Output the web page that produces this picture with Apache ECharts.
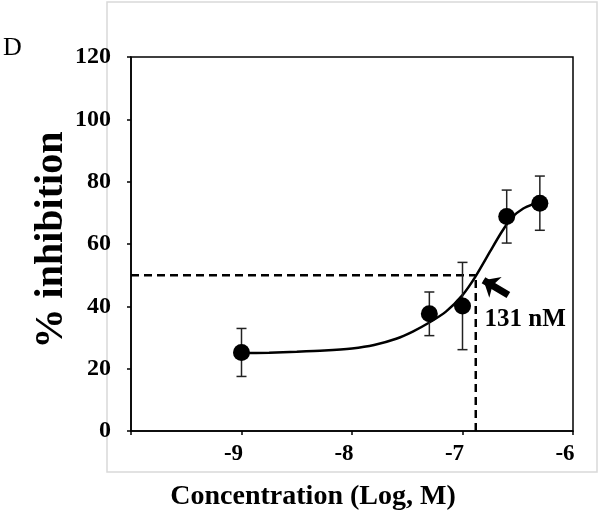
<!DOCTYPE html>
<html>
<head>
<meta charset="utf-8">
<script src="https://cdn.jsdelivr.net/npm/echarts@6/dist/echarts.min.js"></script>
<style>html,body{margin:0;padding:0;background:#fff;}#c{width:600px;height:514px;}</style>
</head>
<body>
<div id="c"></div>
<script>
// Data
const concLog = [-9, -7.3, -7, -6.6, -6.3];
const inhibition = [25.2, 37.6, 40.1, 68.8, 73.1];
const errorBar = [7.7, 7, 14, 8.5, 8.7];
const fitX = [-9, -8.75, -8.5, -8.25, -8.0, -7.8, -7.6, -7.45, -7.3, -7.15, -7.0, -6.88, -6.75, -6.65, -6.55, -6.45, -6.35, -6.3];
const fitY = [25.0, 25.1, 25.4, 25.8, 26.5, 27.6, 29.6, 31.9, 34.8, 38.3, 43.6, 49.7, 57.6, 63.6, 68.6, 71.4, 73.0, 73.6];
const ic50Log = -6.88;
const halfLevel = 50;
const ic50Label = '131 nM';
const xTicks = [-9, -8, -7, -6];
const yTicks = [0, 20, 40, 60, 80, 100, 120];
const arrowFrom = [-6.585, 43.6];
const arrowTo = [-6.81, 48.4];
const labelPos = [-6.8, 35.6];

const serif = '"Liberation Serif", "DejaVu Serif", serif';
const chart = echarts.init(document.getElementById('c'));

const errData = concLog.map((x, i) => [x, inhibition[i] - errorBar[i], inhibition[i] + errorBar[i]]);

chart.setOption({
  animation: false,
  backgroundColor: '#fff',
  grid: { left: 131, right: 27, top: 57, bottom: 83, show: true, borderColor: '#000', borderWidth: 1.5 },
  xAxis: {
    type: 'value', min: -10, max: -6, interval: 1,
    axisLine: { lineStyle: { color: '#000', width: 1.5 } },
    axisTick: { show: true, length: 4, lineStyle: { color: '#000', width: 1.5 } },
    splitLine: { show: false },
    axisLabel: {
      margin: 12, color: '#000', fontFamily: serif, fontWeight: 'bold', fontSize: 23,
      padding: [0, 16, 0, 0],
      formatter: v => xTicks.indexOf(v) >= 0 ? String(v) : ''
    }
  },
  yAxis: {
    type: 'value', min: 0, max: 120, interval: 20,
    axisLine: { show: true, lineStyle: { color: '#000', width: 1.5 } },
    axisTick: { show: true, length: 4, lineStyle: { color: '#000', width: 1.5 } },
    splitLine: { show: false },
    axisLabel: {
      margin: 20, color: '#000', fontFamily: serif, fontWeight: 'bold', fontSize: 24,
      formatter: v => yTicks.indexOf(v) >= 0 ? String(v) : ''
    }
  },
  graphic: [
    { type: 'rect', z: -10, shape: { x: 107, y: 2, width: 490, height: 470 },
      style: { fill: 'none', stroke: '#d9d9d9', lineWidth: 1.5 } },
    { type: 'text', x: 3, y: 48, style: { text: 'D', font: '26px ' + serif, fill: '#000', textVerticalAlign: 'middle' } },
    { type: 'text', x: 313, y: 497, style: { text: 'Concentration (Log, M)', font: 'bold 28px ' + serif, fill: '#000', textAlign: 'center', textVerticalAlign: 'middle' } },
    { type: 'text', x: 52, y: 240, rotation: Math.PI / 2,
      style: { text: '% inhibition', font: 'bold 40px ' + serif, fill: '#000', textAlign: 'center', textVerticalAlign: 'middle' } }
  ],
  series: [
    {
      type: 'line', data: [[-10, halfLevel], [ic50Log, halfLevel]], symbol: 'none',
      lineStyle: { color: '#000', width: 2.5, type: [8, 5] }, z: 2
    },
    {
      type: 'line', data: [[ic50Log, 0], [ic50Log, halfLevel]], symbol: 'none',
      lineStyle: { color: '#000', width: 2.5, type: [8, 5] }, z: 2
    },
    {
      type: 'line', data: fitX.map((x, i) => [x, fitY[i]]), symbol: 'none', smooth: 0.2,
      lineStyle: { color: '#000', width: 2.5 }, z: 3,
      markLine: {
        silent: true, symbol: ['none', 'arrow'], symbolSize: [18, 14],
        label: { show: false },
        lineStyle: { color: '#000', width: 7, type: 'solid' },
        data: [[{ coord: arrowFrom }, { coord: arrowTo }]]
      }
    },
    {
      type: 'custom', z: 4,
      renderItem: function (params, api) {
        const x = api.value(0);
        const lo = api.coord([x, api.value(1)]);
        const hi = api.coord([x, api.value(2)]);
        const w = 5;
        const st = { stroke: '#222', lineWidth: 1.5 };
        return { type: 'group', children: [
          { type: 'line', shape: { x1: lo[0], y1: lo[1], x2: hi[0], y2: hi[1] }, style: st },
          { type: 'line', shape: { x1: lo[0] - w, y1: lo[1], x2: lo[0] + w, y2: lo[1] }, style: st },
          { type: 'line', shape: { x1: hi[0] - w, y1: hi[1], x2: hi[0] + w, y2: hi[1] }, style: st }
        ]};
      },
      encode: { x: 0, y: [1, 2] },
      data: errData
    },
    {
      type: 'scatter', data: concLog.map((x, i) => [x, inhibition[i]]), symbol: 'circle', symbolSize: 17,
      itemStyle: { color: '#000', opacity: 1 }, z: 5
    },
    {
      type: 'scatter', data: [labelPos], symbolSize: 0, z: 6, itemStyle: { opacity: 1 },
      label: { show: true, position: 'right', distance: 0, formatter: ic50Label,
        color: '#000', fontFamily: serif, fontWeight: 'bold', fontSize: 25 }
    }
  ]
});
</script>
</body>
</html>
